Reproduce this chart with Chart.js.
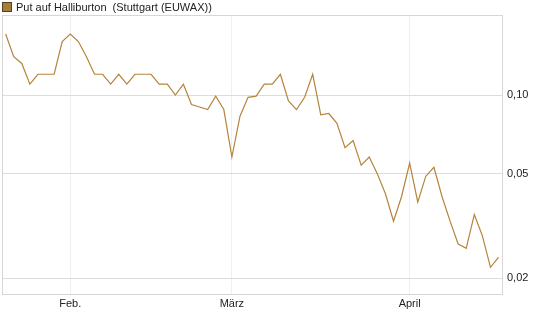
<!DOCTYPE html>
<html>
<head>
<meta charset="utf-8">
<script src="https://cdn.jsdelivr.net/npm/chart.js@4/dist/chart.umd.min.js"></script>
<style>
  html, body { margin: 0; padding: 0; background: #fff; }
  #wrap { position: relative; width: 545px; height: 327px; }
  #legend { position: absolute; left: 2px; top: 1px; font: 11px "Liberation Sans", Arial, sans-serif; color: #222; white-space: pre; line-height: 12px; display: flex; align-items: center; }
  #legend .box { width: 8px; height: 8px; background: #a97c3a; border: 1px solid #5b4020; margin-right: 4px; }
</style>
</head>
<body>
<div id="wrap">
  <canvas id="c" width="545" height="327"></canvas>
  <div id="legend"><span class="box"></span><span id="legendText"></span></div>
</div>
<script>
// ---- data ----
const seriesName = "Put auf Halliburton  (Stuttgart (EUWAX))";
const prices = [
  0.171, 0.140, 0.132, 0.110, 0.120, 0.120, 0.120, 0.160, 0.171, 0.160,
  0.140, 0.120, 0.120, 0.110, 0.120, 0.110, 0.120, 0.120, 0.120, 0.110,
  0.110, 0.100, 0.110, 0.092, 0.090, 0.088, 0.099, 0.088, 0.058, 0.083,
  0.098, 0.099, 0.110, 0.110, 0.120, 0.095, 0.088, 0.098, 0.120, 0.084,
  0.085, 0.078, 0.063, 0.067, 0.054, 0.058, 0.050, 0.042, 0.033, 0.041,
  0.055, 0.039, 0.049, 0.053, 0.041, 0.033, 0.027, 0.026, 0.035, 0.029,
  0.022, 0.024
];
const monthLabels = ["Feb.", "März", "April"];
const monthStartIndex = [8, 28, 50];
const yTickValues = [0.02, 0.05, 0.10];
const yTickLabels = ["0,02", "0,05", "0,10"];

document.getElementById('legendText').textContent = seriesName;

const points = prices.map((v, i) => ({ x: i, y: v }));
const FONT = { family: '"Liberation Sans", Arial, sans-serif', size: 11 };

const frame = {
  id: 'frame',
  beforeDatasetsDraw(chart) {
    const a = chart.chartArea, ctx = chart.ctx;
    ctx.save();
    ctx.strokeStyle = '#d6d6d6';
    ctx.lineWidth = 1;
    ctx.strokeRect(Math.round(a.left) + 0.5, Math.round(a.top) + 0.5,
                   Math.round(a.right - a.left) - 1, Math.round(a.bottom - a.top));
    ctx.restore();
  }
};

new Chart(document.getElementById('c'), {
  type: 'line',
  data: {
    datasets: [{
      label: seriesName,
      data: points,
      borderColor: '#b5843b',
      borderWidth: 1.2,
      pointRadius: 0,
      tension: 0,
      fill: false
    }]
  },
  options: {
    responsive: false,
    animation: false,
    layout: { padding: { top: 15, left: 2, right: 0, bottom: 0 } },
    plugins: { legend: { display: false }, tooltip: { enabled: false } },
    scales: {
      x: {
        type: 'linear',
        min: -0.45,
        max: 61.55,
        afterBuildTicks(s) { s.ticks = monthStartIndex.map(v => ({ value: v })); },
        afterFit(s) { s.height = 33; },
        ticks: {
          autoSkip: false,
          maxRotation: 0,
          padding: 3,
          color: '#222',
          font: FONT,
          callback(v) { const k = monthStartIndex.indexOf(v); return k >= 0 ? monthLabels[k] : ''; }
        },
        grid: { color: '#efefef', drawTicks: false },
        border: { display: false }
      },
      y: {
        type: 'logarithmic',
        position: 'right',
        min: 0.0174,
        max: 0.202,
        afterBuildTicks(s) { s.ticks = yTickValues.map(v => ({ value: v })); },
        afterFit(s) { s.width = 42; },
        ticks: {
          autoSkip: false,
          padding: 4,
          color: '#222',
          font: FONT,
          callback(v) { const k = yTickValues.indexOf(v); return k >= 0 ? yTickLabels[k] : ''; }
        },
        grid: { color: '#dcdcdc', drawTicks: false },
        border: { display: false }
      }
    }
  },
  plugins: [frame]
});
</script>
</body>
</html>
